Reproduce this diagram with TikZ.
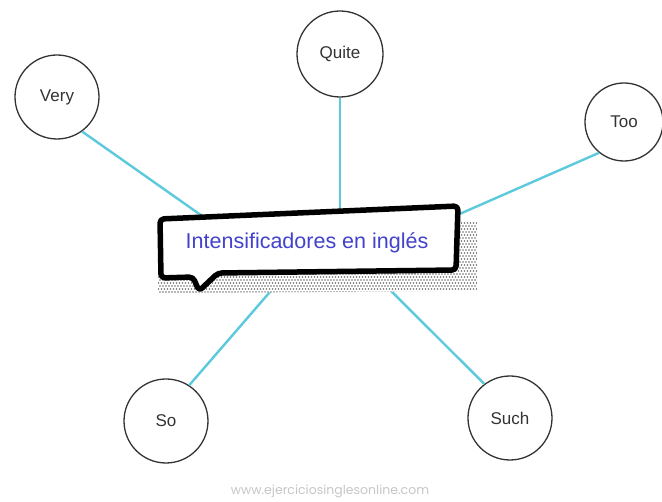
\documentclass[tikz,border=0pt]{standalone}
\usepackage{fontspec}
\setmainfont{Liberation Sans}
\newfontfamily\wmfont{Poppins}
\definecolor{linkcyan}{HTML}{5CC9DD}
\definecolor{titleblue}{HTML}{4242CC}
\definecolor{ringgray}{HTML}{333333}
\definecolor{dotgray}{HTML}{6E6E6E}
\tikzset{
  word/.style={circle, draw=ringgray, line width=1.3pt, fill=white, minimum size=#1, inner sep=0pt,
    font=\fontsize{17}{20}\selectfont, text=ringgray},
  link/.style={draw=linkcyan, line width=2.4pt},
  bubble/.style={draw=black, line width=5.5pt, fill=white, rounded corners=4pt, line join=round},
  halftone/.style={fill=dotgray},
}
\begin{document}
\begin{tikzpicture}[x=1pt, y=-1pt]
\useasboundingbox (0,0) rectangle (662,502);
% circles
\node[word=84pt] (very) at (57,97) {Very};
\node[word=86pt] (quite) at (340,54) {Quite};
\node[word=78pt] (too) at (624,122) {Too};
\node[word=84pt] (so) at (166,421) {So};
\node[word=84pt] (such) at (510,418) {Such};
% hidden ends of connectors
\coordinate (cv) at (205,218);
\coordinate (cq) at (340,220);
\coordinate (ct) at (455,216);
\coordinate (cs) at (282,278);
\coordinate (cu) at (380,280);
\draw[link] (very.-54) -- (cv);
\draw[link] (quite.south) -- (cq);
\draw[link] (too.-129) -- (ct);
\draw[link] (so.57) -- (cs);
\draw[link] (such.127) -- (cu);
% shadow (halftone)
\fill[white] (175,228) -- (477,221) -- (477,291) -- (158,293) -- (158,255) -- cycle;
\begin{scope}
  \clip (175,228) -- (477,221) -- (477,291) -- (158,293) -- (158,255) -- cycle;
  \foreach \r in {0,...,24} {
    \pgfmathsetmacro{\yy}{220+3*\r}
    \pgfmathsetmacro{\off}{mod(\r,2)*1.5}
    \foreach \c in {0,...,107} {
      \fill[halftone] (157+\off+3*\c,\yy) circle (0.95pt);
    }
  }
\end{scope}
% speech bubble
\draw[bubble] (160,219) -- (458,206) -- (456,270) -- (218,273) -- (199,291) -- (193,277) -- (161,278) -- cycle;
\node[font=\fontsize{21.5}{25}\selectfont, text=titleblue] (title) at (307,243) {Intensificadores en inglés};
% watermark
\node[font=\wmfont\fontsize{12.5}{15}\selectfont, text=gray!45] (wm) at (330,491) {www.ejerciciosinglesonline.com};
\end{tikzpicture}
\end{document}
